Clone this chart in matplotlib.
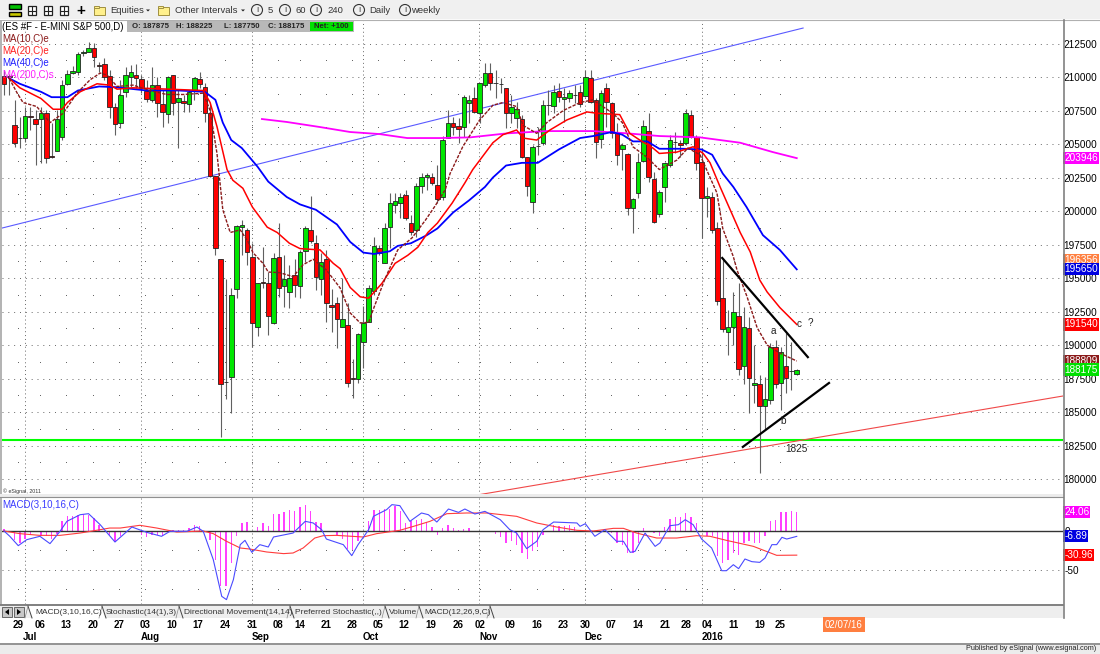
#!/usr/bin/env python3
"""Grafico diario E-MINI S&P 500 com medias moveis e MACD (tela do eSignal)."""

import matplotlib
matplotlib.use('Agg')
import matplotlib.pyplot as plt
from matplotlib.patches import Rectangle, Circle, Polygon

plt.rcParams['font.family'] = ['Liberation Sans', 'DejaVu Sans']

# OHLC em pontos do indice, uma barra por pregao
opens = [2100.8, 2100.8, 2064.2, 2054.8, 2054.5, 2070.9, 2068.7, 2068.7, 2073.2, 2041.1,
         2044.8, 2055.3, 2094.8, 2103, 2103.8, 2118, 2118.7, 2121.7, 2108.9, 2109.7,
         2100.8, 2077.6, 2065.7, 2088.8, 2100, 2101.5, 2098.5, 2089.6, 2082.9, 2094,
         2079.9, 2072.4, 2101.5, 2081.4, 2082.1, 2079.9, 2089.6, 2098.5, 2092.6, 2073.2,
         2026.2, 1964.2, 1872.6, 1876.1, 1941.8, 1988.1, 1985.9, 1965.7, 1913.5, 1947,
         1946.3, 1916.4, 1965.7, 1944, 1939.6, 1952.3, 1944, 1970.2, 1985.9, 1976.1,
         1949.3, 1964.2, 1929.9, 1931.4, 1913.5, 1915, 1875.4, 1874.6, 1902.3, 1917.2,
         1940.3, 1972.4, 1961.2, 1988.1, 2004.5, 2006, 2012, 1991.1, 1985.9, 2018.7,
         2025.4, 2025.4, 2019.4, 2010.5, 2054.5, 2065.7, 2063.5, 2062.7, 2080.6, 2084.4,
         2073.2, 2094, 2103, 2095.9, 2095, 2091.8, 2073.2, 2069.4, 2068.7, 2040.3,
         2006.7, 2048.7, 2050.8, 2079.3, 2078.4, 2089.6, 2083.6, 2084.4, 2086.8, 2088.8,
         2085.9, 2099.3, 2082.9, 2053.8, 2091.8, 2080.6, 2058.2, 2046.3, 2042.6, 2002.3,
         2013.5, 2037.3, 2059.7, 2023.9, 1997.8, 2018, 2034.4, 2051.8, 2050.8, 2050.8,
         2071.7, 2055.3, 2036.6, 2009.7, 2010.5, 1987.3, 1935.1, 1909.7, 1913.5, 1921.7,
         1884.4, 1912.7, 1870.2, 1870.9, 1854.5, 1859, 1898.5, 1871.7, 1884.4, 1880.9,
         1878.75]
highs = [2105.3, 2102.3, 2082.9, 2070.2, 2077.6, 2077.6, 2075.4, 2077.6, 2075.4, 2065.7,
         2075.4, 2097.8, 2105.3, 2108.2, 2118.7, 2120.2, 2126.2, 2125.4, 2111.2, 2114.2,
         2105.3, 2080.6, 2097.8, 2107.5, 2109, 2109.7, 2101.5, 2097.8, 2107.5, 2100,
         2090.3, 2100.8, 2101.5, 2090.3, 2086.6, 2090.3, 2100, 2103.8, 2095.6, 2080.6,
         2026.2, 1964.2, 1949.3, 1942.6, 1989.6, 1993.3, 1987.3, 1976.1, 1946.3, 1973.2,
         1954.5, 1968.7, 1991.1, 1967.2, 1959.7, 1964.2, 1970.9, 1988.8, 2011.2, 1982.1,
         1968.7, 1970.9, 1941.8, 1935.8, 1950, 1931.4, 1889.6, 1909, 1929.1, 1944.8,
         1980.6, 1974.7, 1991.1, 2013.5, 2013.5, 2013.5, 2015.7, 1997, 2020.9, 2028.4,
         2028.4, 2028.4, 2034.4, 2056, 2075.4, 2070.2, 2069.4, 2086.6, 2086.6, 2092.6,
         2095.6, 2110.5, 2110.5, 2105.3, 2099.3, 2091.8, 2086.6, 2081.4, 2071.7, 2040.3,
         2049.3, 2062.7, 2082.9, 2090.3, 2094, 2095.6, 2091.8, 2090.3, 2094, 2094,
         2105.3, 2105.3, 2084.4, 2090.3, 2095.6, 2081.4, 2065.7, 2050.8, 2043.3, 2009.7,
         2043.3, 2067.9, 2073.2, 2029.1, 2015.7, 2036.6, 2056.8, 2059, 2053, 2076.2,
         2075.4, 2056.8, 2047, 2018, 2014.2, 1991.8, 1965, 1926.2, 1939.6, 1946.3,
         1928.4, 1920.9, 1900, 1877.6, 1876.1, 1901.5, 1903.8, 1898.5, 1909, 1902.3,
         1882.25]
lows = [2086.6, 2086.6, 2047.8, 2047, 2051.5, 2060.5, 2034.4, 2035.9, 2035.9, 2039.6,
        2044.8, 2053, 2094, 2102.3, 2101.5, 2115.7, 2118.7, 2107.5, 2103.8, 2097.8,
        2069.4, 2056.8, 2062, 2085.1, 2092.6, 2091.8, 2088.1, 2081.4, 2081.4, 2070.2,
        2062.7, 2065.7, 2071.7, 2047, 2073.9, 2073.9, 2082.9, 2091.8, 2066.5, 2025.4,
        1967.2, 1831.4, 1859.7, 1849.3, 1935.1, 1967.2, 1959.7, 1898.5, 1906.7, 1942.6,
        1907.5, 1915.7, 1935.8, 1928.4, 1927.6, 1935.8, 1935.1, 1962, 1976.1, 1941.1,
        1937.3, 1917.2, 1909.7, 1897.8, 1913.5, 1868.7, 1860.5, 1871.7, 1882.9, 1917.2,
        1937.3, 1967.2, 1961.2, 1972.4, 1998.5, 1994.8, 1993.3, 1982.1, 1980.6, 2013.5,
        2015.7, 2019.4, 2006, 2008.2, 2054.5, 2056.8, 2050.8, 2055.3, 2065.7, 2073.2,
        2065.7, 2092.6, 2090.3, 2084.4, 2088.1, 2062, 2065.7, 2062, 2039.6, 2011.2,
        1998.5, 2041.8, 2049.3, 2071.7, 2073.2, 2081.4, 2066.5, 2081.4, 2080.6, 2077.6,
        2085.1, 2080.6, 2039.6, 2047, 2062.7, 2054.5, 2034.4, 2030.6, 1997, 1983.6,
        2009.7, 2036.6, 2021.7, 1991.1, 1995.6, 2006.7, 2032.9, 2043.3, 2040.3, 2049.3,
        2054.5, 2030.6, 1979.9, 1995.6, 1983.6, 1929.9, 1909.7, 1892.6, 1900, 1877.6,
        1870.9, 1849.3, 1856.7, 1804.5, 1836.6, 1856, 1867.9, 1851.5, 1864.2, 1866.4,
        1877.5]
closes = [2094.8, 2100.3, 2050.8, 2054.3, 2070.9, 2070.2, 2065, 2073.2, 2039.6, 2040.3,
          2068.7, 2094, 2102.3, 2104.5, 2117.2, 2118.7, 2121.7, 2115, 2108.4, 2100,
          2077.6, 2065, 2086.6, 2101.5, 2103.8, 2099.3, 2091.8, 2083.6, 2094, 2080.6,
          2073.9, 2100, 2080.6, 2084.4, 2080.6, 2088.8, 2099.3, 2094.8, 2073.2, 2026.2,
          1972.4, 1870.9, 1872.2, 1937.3, 1988.8, 1989.6, 1969.4, 1916.4, 1946.3, 1946.3,
          1921.7, 1965, 1942.6, 1949.3, 1950, 1944.8, 1969.4, 1987.3, 1977.6, 1950.8,
          1962, 1931.4, 1928.4, 1919.4, 1919.4, 1871.7, 1874.6, 1908.2, 1916.4, 1942.6,
          1973.9, 1968.7, 1987.3, 2006, 2007.5, 2010.5, 1994.8, 1984.4, 2018.7, 2025.4,
          2026.9, 2020.9, 2009, 2053, 2065.7, 2062.7, 2061.2, 2085.1, 2082.9, 2073.9,
          2095.6, 2103, 2095.6, 2095.4, 2094.6, 2073.2, 2077.6, 2076.2, 2040.3, 2018.7,
          2047.8, 2048.2, 2079.1, 2078.9, 2088.8, 2085.1, 2085.1, 2088.1, 2086.4, 2079.9,
          2100, 2081.4, 2051.5, 2088.1, 2081.4, 2058.2, 2041.8, 2049.3, 2002.3, 2009,
          2036.6, 2063.5, 2025.4, 1991.8, 2014.2, 2035.9, 2053, 2051.2, 2049.3, 2073.2,
          2055.3, 2035.9, 2009.7, 2011.2, 1985.9, 1932.9, 1912, 1913.5, 1924.7, 1882.1,
          1913.5, 1875.4, 1871.7, 1854.5, 1859.7, 1898.5, 1870.9, 1894.8, 1875.4, 1880.6,
          1881.75]

# Medias moveis (barra, preco)
ma10_x = [1, 2.5, 3.6, 6.2, 8.7, 11.2, 13.8, 16.3, 18.2, 19.5, 21.4, 24.4, 27.6, 30.8, 33.9, 37.7, 39, 40.3,
          41.4, 42.8, 44.7, 46.2, 47.1, 49, 50, 52.2, 54.7, 56.6, 58.5, 61, 63.6, 65.5, 67.4, 69, 70, 72, 74.5,
          77.2, 79.7, 81.6, 83.5, 84.4, 86.8, 90, 92.5, 94.4, 97, 98.2, 100.8, 102.7, 105.8, 109, 111.4, 115.2,
          117, 119, 121.7, 124, 127.3, 129.4, 131.7, 133.6, 134.9, 136, 138, 138.7, 140.6, 142.5, 144.4, 146.8, 150]
ma10_y = [2099, 2088, 2081, 2078, 2066, 2073, 2088, 2098, 2103, 2101.5, 2093, 2094, 2090, 2087, 2087, 2088, 2075, 2043,
          2001, 1984, 1986, 1977, 1969, 1961, 1954.5, 1954, 1951, 1960, 1964, 1956, 1942.6, 1924, 1916.5, 1917, 1928,
          1948.5, 1971, 1980, 1993, 2004, 2016, 2028, 2048, 2068, 2079, 2081, 2078, 2064, 2058, 2066, 2075, 2081, 2083,
          2073, 2066, 2048, 2040, 2031, 2038, 2047, 2042, 2025, 2013.5, 1987, 1966, 1956, 1936, 1913, 1900, 1894, 1888.09]
ma20_x = [1, 3, 7, 9.3, 11, 12, 14.4, 17.6, 20, 21.4, 24.4, 31, 37.7, 39, 40.3, 42.2, 43.3, 45.2, 47, 49.8, 51.7, 54,
          56, 59.8, 62.3, 63.6, 65.5, 67.4, 69, 71.5, 74, 76.4, 78.3, 80.2, 82, 84.8, 87.2, 88.7, 92.5, 94.4, 97, 98.2,
          100.8, 103.3, 106.5, 110.3, 112.2, 116.5, 118.4, 120.3, 122.8, 124, 127.3, 130.4, 132.3, 133.6, 135.5, 137.4,
          139.3, 141.2, 143, 144.4, 146.8, 150]
ma20_y = [2099, 2092, 2084, 2076, 2076, 2081, 2089, 2095, 2094, 2091, 2092, 2091, 2090, 2081, 2063, 2031, 2023, 2017,
          2003, 1988, 1984, 1976, 1972, 1971, 1961, 1957, 1943, 1936, 1935, 1946, 1961, 1967, 1973, 1984, 1991, 2006,
          2021, 2031, 2051, 2057, 2060.5, 2054.5, 2053, 2060.5, 2068, 2074, 2073, 2072, 2058, 2053, 2047, 2043, 2044,
          2048, 2043, 2036, 2018, 2001, 1984, 1969.5, 1948.5, 1939.6, 1928, 1915.4]
ma40_x = [1, 3, 7, 9, 12, 14, 18, 21, 27, 33, 38, 40, 41.4, 43, 45, 48, 50, 53.5, 56, 59, 63, 65.5, 68, 70, 73, 74.5,
          77, 80, 82, 85, 88, 91, 92.5, 95, 98, 101, 105, 109, 111.5, 115, 117, 119, 121.7, 124, 128.5, 132, 134, 136,
          138, 140.5, 143.6, 146.8, 150]
ma40_y = [2099, 2095, 2089, 2085, 2085, 2090, 2093, 2092.5, 2090, 2090, 2089, 2083, 2066, 2053, 2047, 2033, 2022, 2010.5,
          2005, 2001, 1990, 1977, 1969, 1968, 1970, 1974, 1976, 1982, 1987, 1999, 2008, 2018, 2025, 2034, 2036, 2036,
          2046, 2054.5, 2056, 2059, 2057, 2052, 2052, 2046.5, 2046.5, 2046, 2042, 2028, 2018, 2003, 1982, 1971, 1956.5]
ma200_x = [48.8, 53.5, 59.8, 65.5, 71, 76.3, 82.5, 88.2, 95.2, 102.7, 111.4, 117.9, 124, 131.7, 139.3, 145.5, 150]
ma200_y = [2068.7, 2066.5, 2062.7, 2059, 2057.5, 2054.5, 2054.5, 2055, 2058, 2059.7, 2059.7, 2058, 2056, 2055, 2051,
           2044, 2039.5]

# Linhas desenhadas a mao no grafico (barra, preco)
blue_trend_x = [-0.4, 151.2]
blue_trend_y = [1987.3, 2136.6]
red_trend_x = [90, 200.4]
red_trend_y = [1788.4, 1862]
top_wedge_x = [135.9, 152.1]
top_wedge_y = [1965, 1891]
low_wedge_x = [139.8, 156.1]
low_wedge_y = [1824, 1871.7]
support_level = 1829.1

# MACD(3,10,16,C)
macd_hist = [2.6, -1.7, -11.1, -15.4, -10.3, -4.7, -1.7, -6, -6.8, -9.8, -3.8, 13.2, 18.8, 19.7, 21, 22.2, 21, 16.7, 8.1, 0,
             -4.7, -14.1, -6.8, 0, 0, 0, -4.7, -8.1, -4.7, -4.7, -6.8, 0, 1.7, 1.7, 1.7, 3.8, 7.3, 6.8, 0, -11.1,
             -36.8, -71, -71, -41, -6.8, 10.3, 11.1, 0, 4.7, 10.7, 6.8, 21.8, 21.8, 24.4, 26.5, 25.2, 30.8, 33.8, 25.6, 11.5,
             10.3, 0, 0, -4.7, -10.3, -23.1, -23.9, -13.2, 0, 12.4, 26.5, 26.5, 28.2, 28.2, 32.5,
             25.2, 10.3, 12.4, 14.5, 15.4, 11.5, 5.1, -4.7, 3.8, 7.3, 3.8, 1.7, 2.6, 3.8, 0, 0, 0, 0, -3.8, -8.1,
             -15.4, -13.2, -17.5, -28.2, -35.9, -26.1, -20.5, -4.7, 0, 8.1, 6.8, 6.8, 8.1, 5.1, 0, 0, 0, 0, 0, 0, -2.6,
             -15.4, -17.5, -28.2, -28.2, -15.4, 3.8, -1.7, -2.6, -6.8, 5.1, 15.4, 17.9, 17.9, 23.1, 17.9, 10.3, 0, -6, -6, -32.5,
             -41, -36.8, -28.2, -31.2, -15.4, -13.2, -15.4, -15.4, -6.8, 13.2, 14.5, 24.8, 23.9, 25.2, 24.06]
macd_x = [0, 1.1, 2.7, 4.3, 6.8, 8.7, 10.6, 11.9, 14.4, 16, 18.2, 21, 24.2, 27, 29.8, 31.4, 34.6, 36.5, 37.7, 39.6, 41.2,
          42.1, 43.4, 44.7, 45.6, 46.9, 48.4, 50, 51, 54.7, 57, 58.5, 60.1, 61, 64.2, 65.8, 67, 69, 69.9, 72.4, 73.4, 74.9,
          76.8, 79, 80.3, 81.9, 84.1, 86, 87.2, 89.1, 91, 93.9, 95.7, 97, 98.9, 100.8, 102, 104, 108.4, 109, 110, 111.8,
          113.7, 115.9, 117.2, 118.5, 119.4, 121.3, 123.2, 124.1, 126, 127.6, 128.9, 130.4, 132, 133.9, 135.8, 136.7, 138,
          139, 140.2, 141.5, 143, 144, 145.3, 146.2, 147.2, 148.1, 150]
macd_y = [0, -6.8, -18.8, -11.1, -6.8, -16.2, -0.4, 12.4, 20.9, 22.2, 8.1, -14.1, 5.1, -1.7, -6.8, -0.4, -0.4, 5.1, -0.4,
          -36.8, -83.8, -88, -62.4, -17.5, -12, -27.4, -17.5, -20.5, -7.7, -2.6, 12.4, 10.3, 1.7, -10.3, -17.5, -31.6, -17.5,
          1.7, 18.8, 27.4, 33.8, 32.5, 12.4, 23.1, 20.9, 11.5, 28.2, 23.9, 28.2, 21.8, 25.2, 14.5, 1.7, -2.6, -22.6, -13.2,
          1.7, 11.5, 10.3, 6, 9.4, -6.8, 1.7, -13.2, -13.2, -27.4, -26.1, -2.6, -19.7, -15.4, 6.8, 8.1, 14.5, 8.1, -10.3,
          -21.8, -50.9, -50.9, -43.2, -48.3, -35.9, -39.3, -40.2, -34.6, -17.5, -17.5, -8.1, -10.3, -6.89]
signal_x = [0, 3, 6.8, 10.6, 14.4, 17.5, 20, 22, 25.7, 28.9, 32.7, 37.7, 39.6, 42.1, 44.7, 46.5, 49.7, 52.9, 54.7, 56.6,
            58.8, 60.4, 62.9, 68, 70.5, 74.9, 77.5, 80.6, 83.8, 87.5, 91.3, 97, 100.8, 104.6, 108.4, 111.5, 115.3, 117.2,
            119.7, 123.5, 127.3, 131, 133.6, 136.7, 141.8, 146.2, 150]
signal_y = [0, -3.4, -5.6, -5.6, -2.6, 0.9, 3.8, 3.8, 7.3, 3.8, -1.3, 0, -3.4, -13.2, -21.8, -23.1, -26.9, -29, -28.2, -21.8,
            -9, -6, -5.6, -7.7, -3.4, 0.9, 6, 12.4, 22.2, 23.1, 23.1, 18.8, 10.3, 5.1, 0.9, 0, 3.4, 3.4, -2.6, -9, -9, -6,
            -6.8, -12, -19.7, -31.2, -30.96]

# Eixos
price_ticks = [180000, 182500, 185000, 187500, 190000, 192500, 195000, 197500, 200000, 202500,
               205000, 207500, 210000, 212500]
price_tags = [203946, 196356, 195650, 191540, 188809, 188175]
tag_colors = ['#ff00ff', '#ff8040', '#0000e0', '#ff0000', '#8b1a1a', '#00e000']
macd_ticks = [0, -50]
macd_tags = [24.06, -6.89, -30.96]
macd_tag_colors = ['#ff00ff', '#0000e0', '#ff0000']
month_starts = [3.9, 25.9, 46.9, 67.9, 89.9, 109.9, 132.1]
day_pos = [2.6, 6.8, 11.7, 16.8, 21.8, 26.7, 31.8, 36.7, 41.8, 46.9, 51.8, 56, 60.9, 65.8, 70.8, 75.7, 80.8, 85.9, 90.1,
           95.7, 100.9, 105.8, 110, 114.9, 120, 125, 129, 133, 138.1, 143, 146.8]
day_labels = ['29', '06', '13', '20', '27', '03', '10', '17', '24', '31', '08', '14', '21', '28', '05', '12', '19', '26',
              '02', '09', '16', '23', '30', '07', '14', '21', '28', '04', '11', '19', '25']
month_pos = [4.9, 27.6, 48.6, 69.4, 91.6, 111.6, 134]
month_labels = ['Jul', 'Aug', 'Sep', 'Oct', 'Nov', 'Dec', '2016']

W, H = 1100, 654
GREEN = '#00e600'
RED = '#ff0000'
GRID = '#666666'


def px_axes(left, top, right, bottom):
    return fig.add_axes([left / W, 1 - bottom / H, (right - left) / W, (bottom - top) / H])


fig = plt.figure(figsize=(W / 100, H / 100), dpi=100, facecolor='white')

# fundo da janela, em pixels
chrome = fig.add_axes([0, 0, 1, 1], zorder=5)
chrome.set_xlim(0, W)
chrome.set_ylim(H, 0)
chrome.axis('off')
chrome.patch.set_alpha(0)

ax = px_axes(2, 20, 1063, 495)
macd_ax = px_axes(2, 497, 1063, 604)
x_left = (2 - 4) / 5.285
x_right = (1063 - 4) / 5.285

# ========== Painel de precos ==========
ax.set_xlim(x_left, x_right)
ax.set_ylim(178810, 214260)

for p in price_ticks:
    ax.axhline(p, color=GRID, lw=0.7, ls=(0, (1, 5)), zorder=1)
half_levels = [p + 1250 for p in price_ticks[:-1]]
for p in half_levels:
    ax.plot(day_pos, [p] * len(day_pos), ls='', marker='s', ms=0.7, mew=0, color=GRID, zorder=1)
for m in month_starts:
    ax.axvline(m, color=GRID, lw=0.7, ls=(0, (1, 3)), zorder=1)

ax.axhline(support_level * 100, color='#00ff00', lw=1.5, zorder=2)
ax.plot(red_trend_x, [v * 100 for v in red_trend_y], color='#f04848', lw=0.8, zorder=2)
ax.plot(blue_trend_x, [v * 100 for v in blue_trend_y], color='#5a5aff', lw=0.8, zorder=2)

for i in range(len(opens)):
    ax.plot([i, i], [lows[i] * 100, highs[i] * 100], color='#606060', lw=0.8, zorder=3, solid_capstyle='butt')
    up = closes[i] >= opens[i]
    body = abs(closes[i] - opens[i]) * 100
    ax.add_patch(Rectangle((i - 0.43, min(opens[i], closes[i]) * 100), 0.86, body,
                           facecolor=GREEN if up else RED, edgecolor='#222222', lw=0.6, zorder=4))

ax.plot(ma200_x, [v * 100 for v in ma200_y], color='#ff00ff', lw=1.3, zorder=5)
ax.plot(ma40_x, [v * 100 for v in ma40_y], color='#0000ff', lw=1.3, zorder=5)
ax.plot(ma20_x, [v * 100 for v in ma20_y], color='#ff0000', lw=1.1, zorder=5)
ax.plot(ma10_x, [v * 100 for v in ma10_y], color='#8b1a1a', lw=1.0, ls=(0, (2.4, 1)), zorder=5)
ax.plot(top_wedge_x, [v * 100 for v in top_wedge_y], color='black', lw=1.6, zorder=6)
ax.plot(low_wedge_x, [v * 100 for v in low_wedge_y], color='black', lw=1.6, zorder=6)

ax.yaxis.tick_right()
ax.set_yticks(price_ticks)
ax.set_yticklabels([str(p) for p in price_ticks], fontsize=7.2, color='black')
ax.tick_params(axis='y', length=0, pad=0.5)
ax.set_xticks([])
for side in ['top', 'left', 'bottom', 'right']:
    ax.spines[side].set_visible(False)

for v, c in zip(price_tags, tag_colors):
    ax.text(x_right + 0.25, v, str(v), color='white', fontsize=7.2, va='center', ha='left', clip_on=False, zorder=8,
            bbox=dict(facecolor=c, edgecolor='none', pad=0.8))

# ========== Painel MACD ==========
macd_ax.set_xlim(x_left, x_right)
macd_ax.set_ylim(-93.6, 43.6)
macd_ax.bar(range(len(macd_hist)), macd_hist, width=0.26, color='#ff40ff', zorder=2)
macd_ax.axhline(0, color='#333333', lw=1.0, zorder=3)
macd_ax.axhline(-50, color=GRID, lw=0.7, ls=(0, (1, 5)), zorder=1)
for p in [-25, -75]:
    macd_ax.plot(day_pos, [p] * len(day_pos), ls='', marker='s', ms=0.7, mew=0, color=GRID, zorder=1)
for m in month_starts:
    macd_ax.axvline(m, color=GRID, lw=0.7, ls=(0, (1, 3)), zorder=1)
macd_ax.plot(signal_x, signal_y, color='#ff3c3c', lw=0.8, zorder=4)
macd_ax.plot(macd_x, macd_y, color='#4a4aff', lw=0.8, zorder=5)

macd_ax.yaxis.tick_right()
macd_ax.set_yticks(macd_ticks)
macd_ax.set_yticklabels([str(t) for t in macd_ticks], fontsize=7.2)
macd_ax.tick_params(axis='y', length=0, pad=1)
macd_ax.set_xticks(day_pos)
macd_ax.set_xticklabels(day_labels, fontsize=7, fontweight='bold')
macd_ax.tick_params(axis='x', length=0, pad=11.2)
for side in ['top', 'left', 'bottom', 'right']:
    macd_ax.spines[side].set_visible(False)
for m, lab in zip(month_pos, month_labels):
    macd_ax.annotate(lab, (m, 0), xycoords=('data', 'axes fraction'), xytext=(0, -23.8), textcoords='offset points',
                     ha='center', va='center', fontsize=7, fontweight='bold')
for v, c in zip(macd_tags, macd_tag_colors):
    macd_ax.text(x_right + 0.2, v, f'{v:.2f}', color='white', fontsize=7.2, va='center', ha='left', clip_on=False, zorder=8,
                 bbox=dict(facecolor=c, edgecolor='none', pad=0.8))

# ========== Moldura da janela ==========
chrome.add_patch(Rectangle((0, 0), W, 19, facecolor='#f0f0f0', edgecolor='none'))
chrome.plot([0, W], [19.5, 19.5], color='#b0b0b0', lw=0.8)
chrome.add_patch(Rectangle((0, 20), 2, 585, facecolor='#b4b4b4', edgecolor='none'))
chrome.add_patch(Rectangle((0, 494), 1063, 2.5, facecolor='#ececec', edgecolor='none'))
chrome.plot([0, 1063], [497, 497], color='#909090', lw=0.8)
chrome.plot([0, 1063], [605, 605], color='#808080', lw=1.4)
chrome.add_patch(Rectangle((0, 606), 1063, 12, facecolor='#eeeeee', edgecolor='none'))
chrome.plot([1063.5, 1063.5], [20, 618], color='#808080', lw=1.2)
chrome.plot([0, W], [643.5, 643.5], color='#808080', lw=1.2)
chrome.add_patch(Rectangle((0, 644.5), W, 10, facecolor='#ececec', edgecolor='none'))
chrome.text(1096, 649, 'Published by eSignal (www.esignal.com)', fontsize=5.2, ha='right', va='center', color='#222222')
chrome.text(3, 491, '© eSignal, 2011', fontsize=3.8, ha='left', va='center', color='#333333')
chrome.text(844, 624.5, '02/07/16', fontsize=7, color='white', ha='center', va='center',
            bbox=dict(facecolor='#ff7f40', edgecolor='none', pad=1.6))

# barra de ferramentas
chrome.add_patch(Rectangle((9, 4), 12, 5, facecolor='#00c000', edgecolor='black', lw=1))
chrome.add_patch(Rectangle((9, 12), 12, 4, facecolor='#c8c800', edgecolor='black', lw=1))
for bx in [28, 44, 60]:
    chrome.add_patch(Rectangle((bx, 6), 8, 9, facecolor='white', edgecolor='#222222', lw=0.9))
    chrome.plot([bx + 4, bx + 4], [7, 14], color='#222222', lw=0.8)
    chrome.plot([bx + 1, bx + 7], [10.5, 10.5], color='#222222', lw=0.8)
chrome.text(81, 10.5, '+', fontsize=11, fontweight='bold', ha='center', va='center', color='black')
for fx in [94, 158]:
    chrome.add_patch(Rectangle((fx, 7), 11, 8, facecolor='#fff08c', edgecolor='#a09040', lw=0.7))
    chrome.add_patch(Rectangle((fx, 5.5), 5, 2, facecolor='#fff08c', edgecolor='#a09040', lw=0.7))
chrome.text(110, 10.5, 'Equities', fontsize=6.8, ha='left', va='center', color='#333333')
chrome.text(175, 10.5, 'Other Intervals', fontsize=6.8, ha='left', va='center', color='#333333')
for ax_x in [148, 243]:
    chrome.add_patch(Polygon([(ax_x - 2, 9.5), (ax_x + 2, 9.5), (ax_x, 11.5)], facecolor='#222222', edgecolor='none'))
for cx, lx, lab in [(257, 268, '5'), (285, 296, '60'), (316, 327, '240'), (359, 369, 'Daily'), (405, 411.5, 'weekly')]:
    chrome.add_patch(Circle((cx, 10), 5.5, facecolor='#f0f0f0', edgecolor='#333333', lw=0.8))
    chrome.text(cx, 10, 'I', fontsize=5.5, ha='center', va='center', color='#222222')
    chrome.text(lx, 10.5, lab, fontsize=6.8, ha='left', va='center', color='#333333')

# cabecalho com OHLC
chrome.text(2, 27, '(ES #F - E-MINI S&P 500,D)', fontsize=6.9, ha='left', va='center', color='black')
chrome.add_patch(Rectangle((127, 21), 227, 11, facecolor='#b8b8b8', edgecolor='none'))
chrome.add_patch(Rectangle((310, 22), 43, 9, facecolor='#00e000', edgecolor='none'))
for tx, lab in [(132, 'O: 187875'), (176, 'H: 188225'), (224, 'L: 187750'), (268, 'C: 188175'), (314, 'Net: +100')]:
    chrome.text(tx, 27, lab, fontsize=5.6, ha='left', va='center', color='#222222', fontweight='bold')

# legendas das medias
chrome.text(2, 39, 'MA(10,C)e', fontsize=7, color='#8b1a1a', va='center')
chrome.text(2, 51, 'MA(20,C)e', fontsize=7, color='#ff2020', va='center')
chrome.text(2, 63, 'MA(40,C)e', fontsize=7, color='#2020ff', va='center')
chrome.text(2, 75, 'MA(200,C)s', fontsize=7, color='#ff20ff', va='center')
chrome.text(2, 505.5, 'MACD(3,10,16,C)', fontsize=7, color='#3c3cff', va='center')

# anotacoes a mao
for tx, ty, lab in [(773, 331, 'a'), (783, 421, 'b'), (799, 324, 'c'), (810, 323, '?'), (796, 449.5, '1825')]:
    chrome.text(tx, ty, lab, fontsize=7.2, ha='center', va='center', color='#222222')

# abas dos indicadores
chrome.add_patch(Rectangle((2, 607), 10, 10, facecolor='#c8c8c8', edgecolor='#555555', lw=0.6))
chrome.add_patch(Rectangle((14, 607), 10, 10, facecolor='#c8c8c8', edgecolor='#555555', lw=0.6))
chrome.add_patch(Polygon([(9, 609), (9, 615), (5, 612)], facecolor='black', edgecolor='none'))
chrome.add_patch(Polygon([(17, 609), (17, 615), (21, 612)], facecolor='black', edgecolor='none'))
chrome.add_patch(Polygon([(27, 606), (101, 606), (105, 618), (33, 618)], facecolor='white', edgecolor='none'))
tab_text_x = [35, 106, 184, 295, 389, 424]
tab_text = ['MACD(3,10,16,C)', 'Stochastic(14(1),3)', 'Directional Movement(14,14)', 'Preferred Stochastic(,,)',
            'Volume', 'MACD(12,26,9,C)']
for tx, lab in zip(tab_text_x, tab_text):
    chrome.text(tx, 612, lab, fontsize=6, ha='left', va='center', color='#333333')
for sx in [28, 102, 179, 290, 385, 419, 490]:
    chrome.plot([sx, sx + 4], [606, 618], color='#444444', lw=0.7)
    chrome.plot([sx, sx - 3], [606, 618], color='#888888', lw=0.5)

plt.savefig('out.png', dpi=100, facecolor='white')
plt.close()
